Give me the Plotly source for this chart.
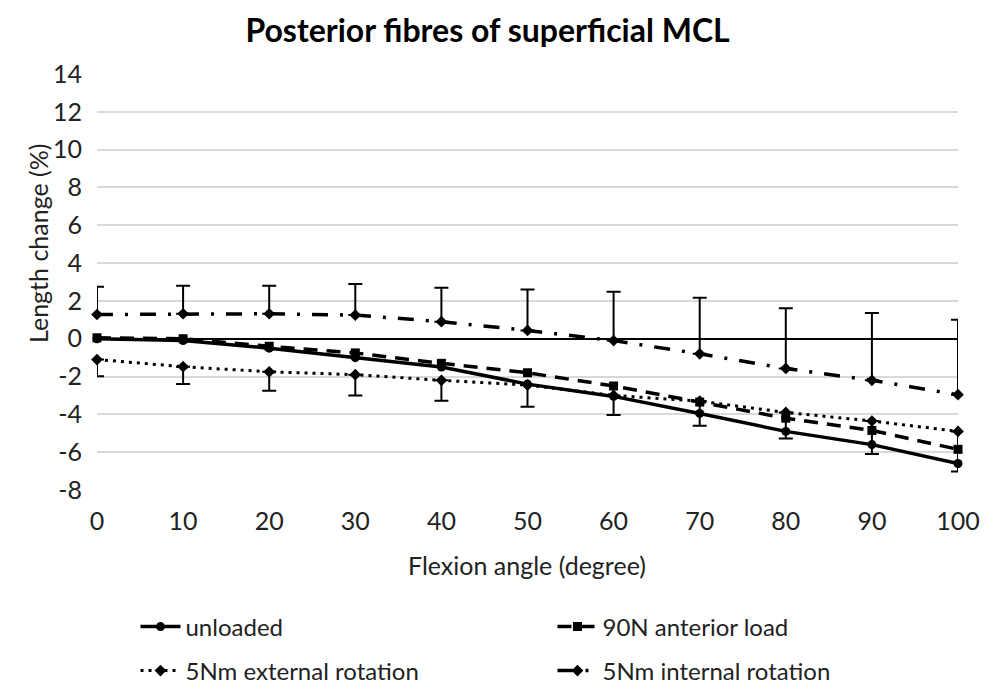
import plotly.graph_objects as go

flexion = [0, 10, 20, 30, 40, 50, 60, 70, 80, 90, 100]
unloaded = [0.0, -0.1, -0.5, -1.0, -1.5, -2.4, -3.05, -3.95, -4.9, -5.6, -6.6]
anterior_90N = [0.05, 0.0, -0.4, -0.75, -1.3, -1.8, -2.5, -3.35, -4.2, -4.85, -5.85]
external_5Nm = [-1.1, -1.48, -1.75, -1.9, -2.2, -2.45, -3.0, -3.3, -3.9, -4.35, -4.9]
external_err_minus = [0.89, 0.92, 1.0, 1.1, 1.08, 1.15, 1.04, 1.3, 1.37, 1.75, 2.12]
internal_5Nm = [1.28, 1.32, 1.32, 1.25, 0.9, 0.44, -0.1, -0.8, -1.57, -2.2, -2.96]
internal_err_plus = [1.47, 1.48, 1.48, 1.65, 1.8, 2.16, 2.59, 2.97, 3.18, 3.56, 3.96]

y_ticks = list(range(-8, 15, 2))
FONT = "Lato"
TXT = "#222"

fig = go.Figure()

fig.add_trace(go.Scatter(
    x=flexion, y=unloaded, name="unloaded", mode="lines+markers", cliponaxis=False,
    legend="legend",
    line=dict(color="black", width=3.5),
    marker=dict(symbol="circle", size=9, color="black")))

fig.add_trace(go.Scatter(
    x=flexion, y=anterior_90N, name="90N anterior load", mode="lines+markers", cliponaxis=False,
    legend="legend",
    line=dict(color="black", width=3.5, dash="14px,9px"),
    marker=dict(symbol="square", size=9, color="black")))

fig.add_trace(go.Scatter(
    x=flexion, y=external_5Nm, name="5Nm external rotation", mode="lines+markers", cliponaxis=False,
    legend="legend2",
    line=dict(color="black", width=3, dash="3px,5px"),
    marker=dict(symbol="diamond", size=9, color="black"),
    error_y=dict(type="data", symmetric=False, array=[0]*len(flexion),
                 arrayminus=external_err_minus, color="black", thickness=2, width=7)))

fig.add_trace(go.Scatter(
    x=flexion, y=internal_5Nm, name="5Nm internal rotation", mode="lines+markers", cliponaxis=False,
    legend="legend2",
    line=dict(color="black", width=3.5, dash="16px,12px,3px,12px"),
    marker=dict(symbol="diamond", size=9, color="black"),
    error_y=dict(type="data", symmetric=False, array=internal_err_plus,
                 arrayminus=[0]*len(flexion), color="black", thickness=2, width=7)))

legend_common = dict(orientation="h", xref="container", yref="container",
                     xanchor="left", yanchor="middle",
                     entrywidth=362, entrywidthmode="pixels",
                     font=dict(family=FONT, size=24, color=TXT), itemwidth=40)

fig.update_layout(
    width=989, height=689,
    paper_bgcolor="white", plot_bgcolor="white",
    margin=dict(l=97, r=31, t=74, b=199, autoexpand=False),
    title=dict(text="<b>Posterior fibres of superficial MCL</b>", x=0.493, xanchor="center",
               y=0.955, yanchor="middle", font=dict(family=FONT, size=32, color="black")),
    font=dict(family=FONT, size=25, color=TXT),
    showlegend=True,
    legend=dict(x=0.137, y=1 - 627 / 689, **legend_common),
    legend2=dict(x=0.137, y=1 - 671 / 689, **legend_common),
    annotations=[
        dict(text="Flexion angle (degree)", xref="paper", yref="paper",
             x=(527 - 97) / 861, y=-(565 - 490) / 416, xanchor="center", yanchor="middle",
             showarrow=False, font=dict(family=FONT, size=25, color=TXT)),
        dict(text="Length change (%)", xref="paper", yref="paper", textangle=-90,
             x=(38 - 97) / 861, y=(490 - 243) / 416, xanchor="center", yanchor="middle",
             showarrow=False, font=dict(family=FONT, size=25, color=TXT)),
    ],
)

fig.update_xaxes(
    range=[0, 100], tickvals=flexion, ticktext=[str(v) for v in flexion],
    showgrid=False, zeroline=False, showline=False, ticks="", automargin=False,
    ticklabelstandoff=14,
    tickfont=dict(family=FONT, size=25, color=TXT))

fig.update_yaxes(
    range=[-8, 14], tickvals=y_ticks, ticktext=[str(v) for v in y_ticks],
    showgrid=True, gridcolor="#d9d9d9", gridwidth=1.5,
    zeroline=True, zerolinecolor="black", zerolinewidth=1.5,
    showline=False, ticks="", ticklabelstandoff=14, automargin=False,
    tickfont=dict(family=FONT, size=25, color=TXT))

fig.write_html("out.html")
